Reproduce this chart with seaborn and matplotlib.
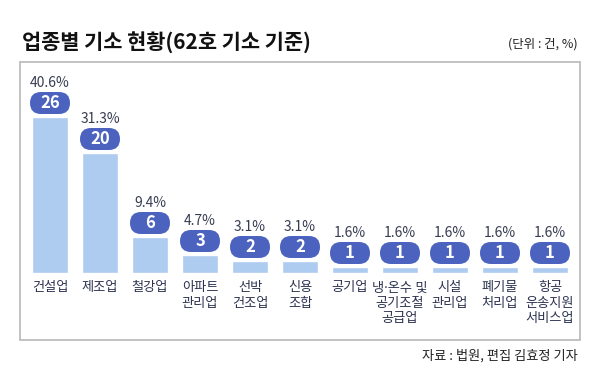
import matplotlib
matplotlib.use('Agg')
import matplotlib.pyplot as plt
from matplotlib.patches import FancyBboxPatch, Rectangle
import seaborn as sns
import pandas as pd

categories = ['건설업', '제조업', '철강업', '아파트\n관리업', '선박\n건조업', '신용\n조합',
              '공기업', '냉·온수 및\n공기조절\n공급업', '시설\n관리업', '폐기물\n처리업',
              '항공\n운송지원\n서비스업']
counts = [26, 20, 6, 3, 2, 2, 1, 1, 1, 1, 1]
shares = ['40.6%', '31.3%', '9.4%', '4.7%', '3.1%', '3.1%', '1.6%', '1.6%', '1.6%', '1.6%', '1.6%']

df = pd.DataFrame({'category': categories, 'count': counts})

sns.set_style('white')
plt.rcParams['font.family'] = ['Noto Sans CJK KR', 'DejaVu Sans']

W, H = 600, 383
fig = plt.figure(figsize=(6, 3.83), dpi=100)
# axes: bars from x=25..575 px, baseline at y=273 px, 6 px per case
ax = fig.add_axes([25 / W, (H - 273) / H, 550 / W, 211 / H])
sns.barplot(data=df, x='category', y='count', color='#aecbf0', width=0.72,
            saturation=1, ax=ax)
ax.set_xlim(-0.5, 10.5)
ax.set_ylim(0, 211 / 6)
ax.set_xlabel('')
ax.set_ylabel('')
ax.set_yticks([])
ax.tick_params(axis='x', length=0, pad=6, labelsize=9.5, labelcolor='#2c3350')
for lbl in ax.get_xticklabels():
    lbl.set_linespacing(1.25)
    lbl.set_verticalalignment('top')
    if '·' in lbl.get_text():
        # narrow middle dot from a latin font, hangul from the CJK font
        lbl.set_family(['Noto Sans', 'Noto Sans CJK KR'])
sns.despine(ax=ax, left=True, bottom=True, top=True, right=True)

px_y = 1 / 6     # data units per pixel (y)
px_x = 1 / 50    # data units per pixel (x)
for i, (c, s) in enumerate(zip(counts, shares)):
    pill = FancyBboxPatch((i - 20 * px_x, c + 3 * px_y), 40 * px_x, 22 * px_y,
                          boxstyle='round,pad=0,rounding_size=0.22',
                          mutation_aspect=px_y / px_x,
                          facecolor='#4b63bf', edgecolor='none', clip_on=False)
    ax.add_patch(pill)
    ax.text(i, c + 14 * px_y, str(c), ha='center', va='center', color='white',
            fontsize=12, fontweight='bold', clip_on=False)
    ax.text(i, c + 34 * px_y, s, ha='center', va='center', color='#383d52',
            fontsize=10, fontweight='medium', clip_on=False)

# outer frame
fig.patches.append(Rectangle((20 / W, (H - 340) / H), 560 / W, 278 / H,
                             transform=fig.transFigure, fill=False,
                             edgecolor='#bdbdbd', linewidth=1.3))

fig.text(22 / W, 1 - 42 / H, '업종별 기소 현황(62호 기소 기준)', ha='left', va='center',
         fontsize=15, fontweight='bold', color='#111111')
fig.text(578 / W, 1 - 44 / H, '(단위 : 건, %)', ha='right', va='center',
         fontsize=9, color='#222222')
fig.text(578 / W, 1 - 356 / H, '자료 : 법원, 편집 김효정 기자', ha='right', va='center',
         fontsize=9.5, color='#222222')

fig.savefig('out.png', dpi=100)
